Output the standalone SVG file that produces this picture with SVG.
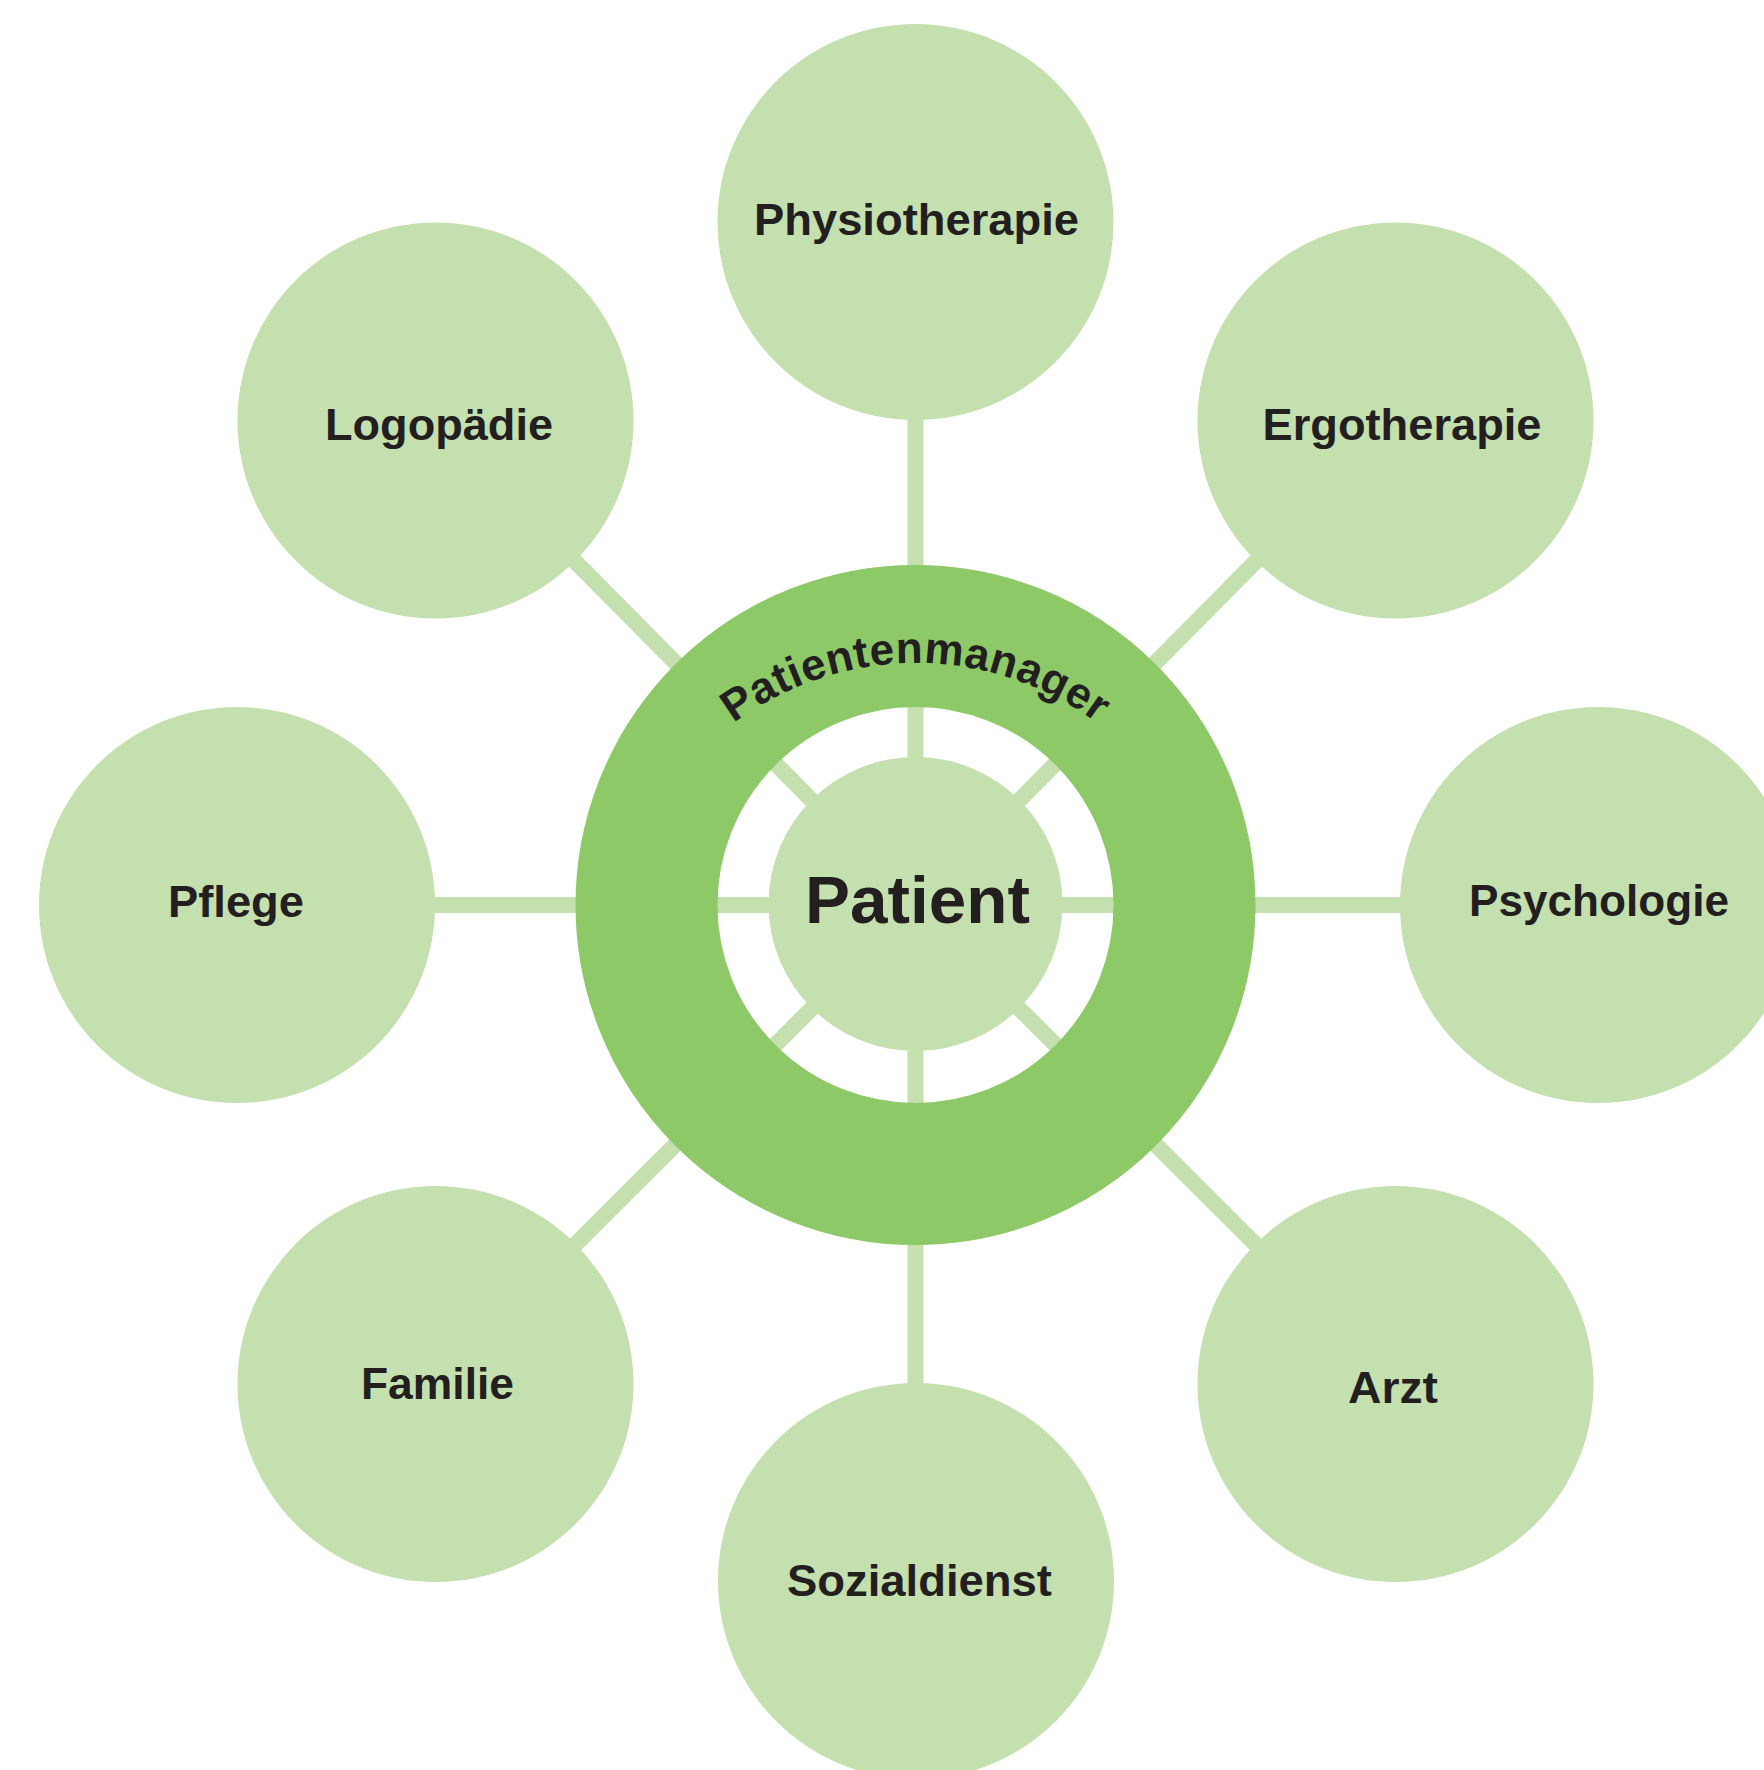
<svg xmlns="http://www.w3.org/2000/svg" xmlns:xlink="http://www.w3.org/1999/xlink" width="1764" height="1770" viewBox="0 0 1764 1770">
  <style>
    .sat { fill: #C5E0AF; }
    .conn { stroke: #C5E0AF; stroke-width: 16; fill: none; }
    .lbl { font-family: "Liberation Sans", Arial, sans-serif; font-weight: bold; font-size: 45px; fill: #231F20; text-anchor: middle; }
    .big { font-family: "Liberation Sans", Arial, sans-serif; font-weight: bold; font-size: 67px; fill: #231F20; text-anchor: middle; }
    .arc { font-family: "Liberation Sans", Arial, sans-serif; font-weight: bold; font-size: 44px; fill: #231F20; letter-spacing: 0.5px; }
  </style>
  <defs>
    <path id="arcPath" d="M 651.4 815.5 A 305 305 0 0 1 1179.6 815.5"/>
  </defs>
  <rect x="0" y="0" width="1764" height="1770" fill="#FFFFFF"/>
  <g id="connectors">
    <line class="conn" x1="915.5" y1="905" x2="915.5" y2="222"/>
    <line class="conn" x1="915.5" y1="905" x2="1395.5" y2="420.5"/>
    <line class="conn" x1="915.5" y1="905" x2="1598" y2="905"/>
    <line class="conn" x1="915.5" y1="905" x2="1395.5" y2="1384"/>
    <line class="conn" x1="915.5" y1="905" x2="915.5" y2="1581"/>
    <line class="conn" x1="915.5" y1="905" x2="435.5" y2="1384"/>
    <line class="conn" x1="915.5" y1="905" x2="237" y2="905"/>
    <line class="conn" x1="915.5" y1="905" x2="435.5" y2="420.5"/>
  </g>
  <g id="patientenmanager">
    <circle cx="915.5" cy="905" r="269" fill="none" stroke="#8DC966" stroke-width="142"/>
    <text class="arc"><textPath xlink:href="#arcPath" href="#arcPath" startOffset="50%" text-anchor="middle">Patientenmanager</textPath></text>
  </g>
  <g id="patient">
    <circle class="sat" cx="915.5" cy="904" r="147"/>
    <text class="big" x="917.5" y="923" textLength="225" lengthAdjust="spacingAndGlyphs">Patient</text>
  </g>
  <g id="physiotherapie">
    <circle class="sat" cx="915.5" cy="222" r="198"/>
    <text class="lbl" x="916.5" y="235" textLength="325" lengthAdjust="spacingAndGlyphs">Physiotherapie</text>
  </g>
  <g id="ergotherapie">
    <circle class="sat" cx="1395.5" cy="420.5" r="198"/>
    <text class="lbl" x="1402" y="440" textLength="279" lengthAdjust="spacingAndGlyphs">Ergotherapie</text>
  </g>
  <g id="psychologie">
    <circle class="sat" cx="1598" cy="905" r="198"/>
    <text class="lbl" x="1599" y="916" textLength="260" lengthAdjust="spacingAndGlyphs">Psychologie</text>
  </g>
  <g id="arzt">
    <circle class="sat" cx="1395.5" cy="1384" r="198"/>
    <text class="lbl" x="1393" y="1403" textLength="90" lengthAdjust="spacingAndGlyphs">Arzt</text>
  </g>
  <g id="sozialdienst">
    <circle class="sat" cx="916" cy="1581" r="198"/>
    <text class="lbl" x="919.5" y="1596" textLength="265" lengthAdjust="spacingAndGlyphs">Sozialdienst</text>
  </g>
  <g id="familie">
    <circle class="sat" cx="435.5" cy="1384" r="198"/>
    <text class="lbl" x="437.5" y="1399" textLength="153" lengthAdjust="spacingAndGlyphs">Familie</text>
  </g>
  <g id="pflege">
    <circle class="sat" cx="237" cy="905" r="198"/>
    <text class="lbl" x="236" y="917" textLength="136" lengthAdjust="spacingAndGlyphs">Pflege</text>
  </g>
  <g id="logopaedie">
    <circle class="sat" cx="435.5" cy="420.5" r="198"/>
    <text class="lbl" x="439" y="440" textLength="228" lengthAdjust="spacingAndGlyphs">Logopädie</text>
  </g>
</svg>
